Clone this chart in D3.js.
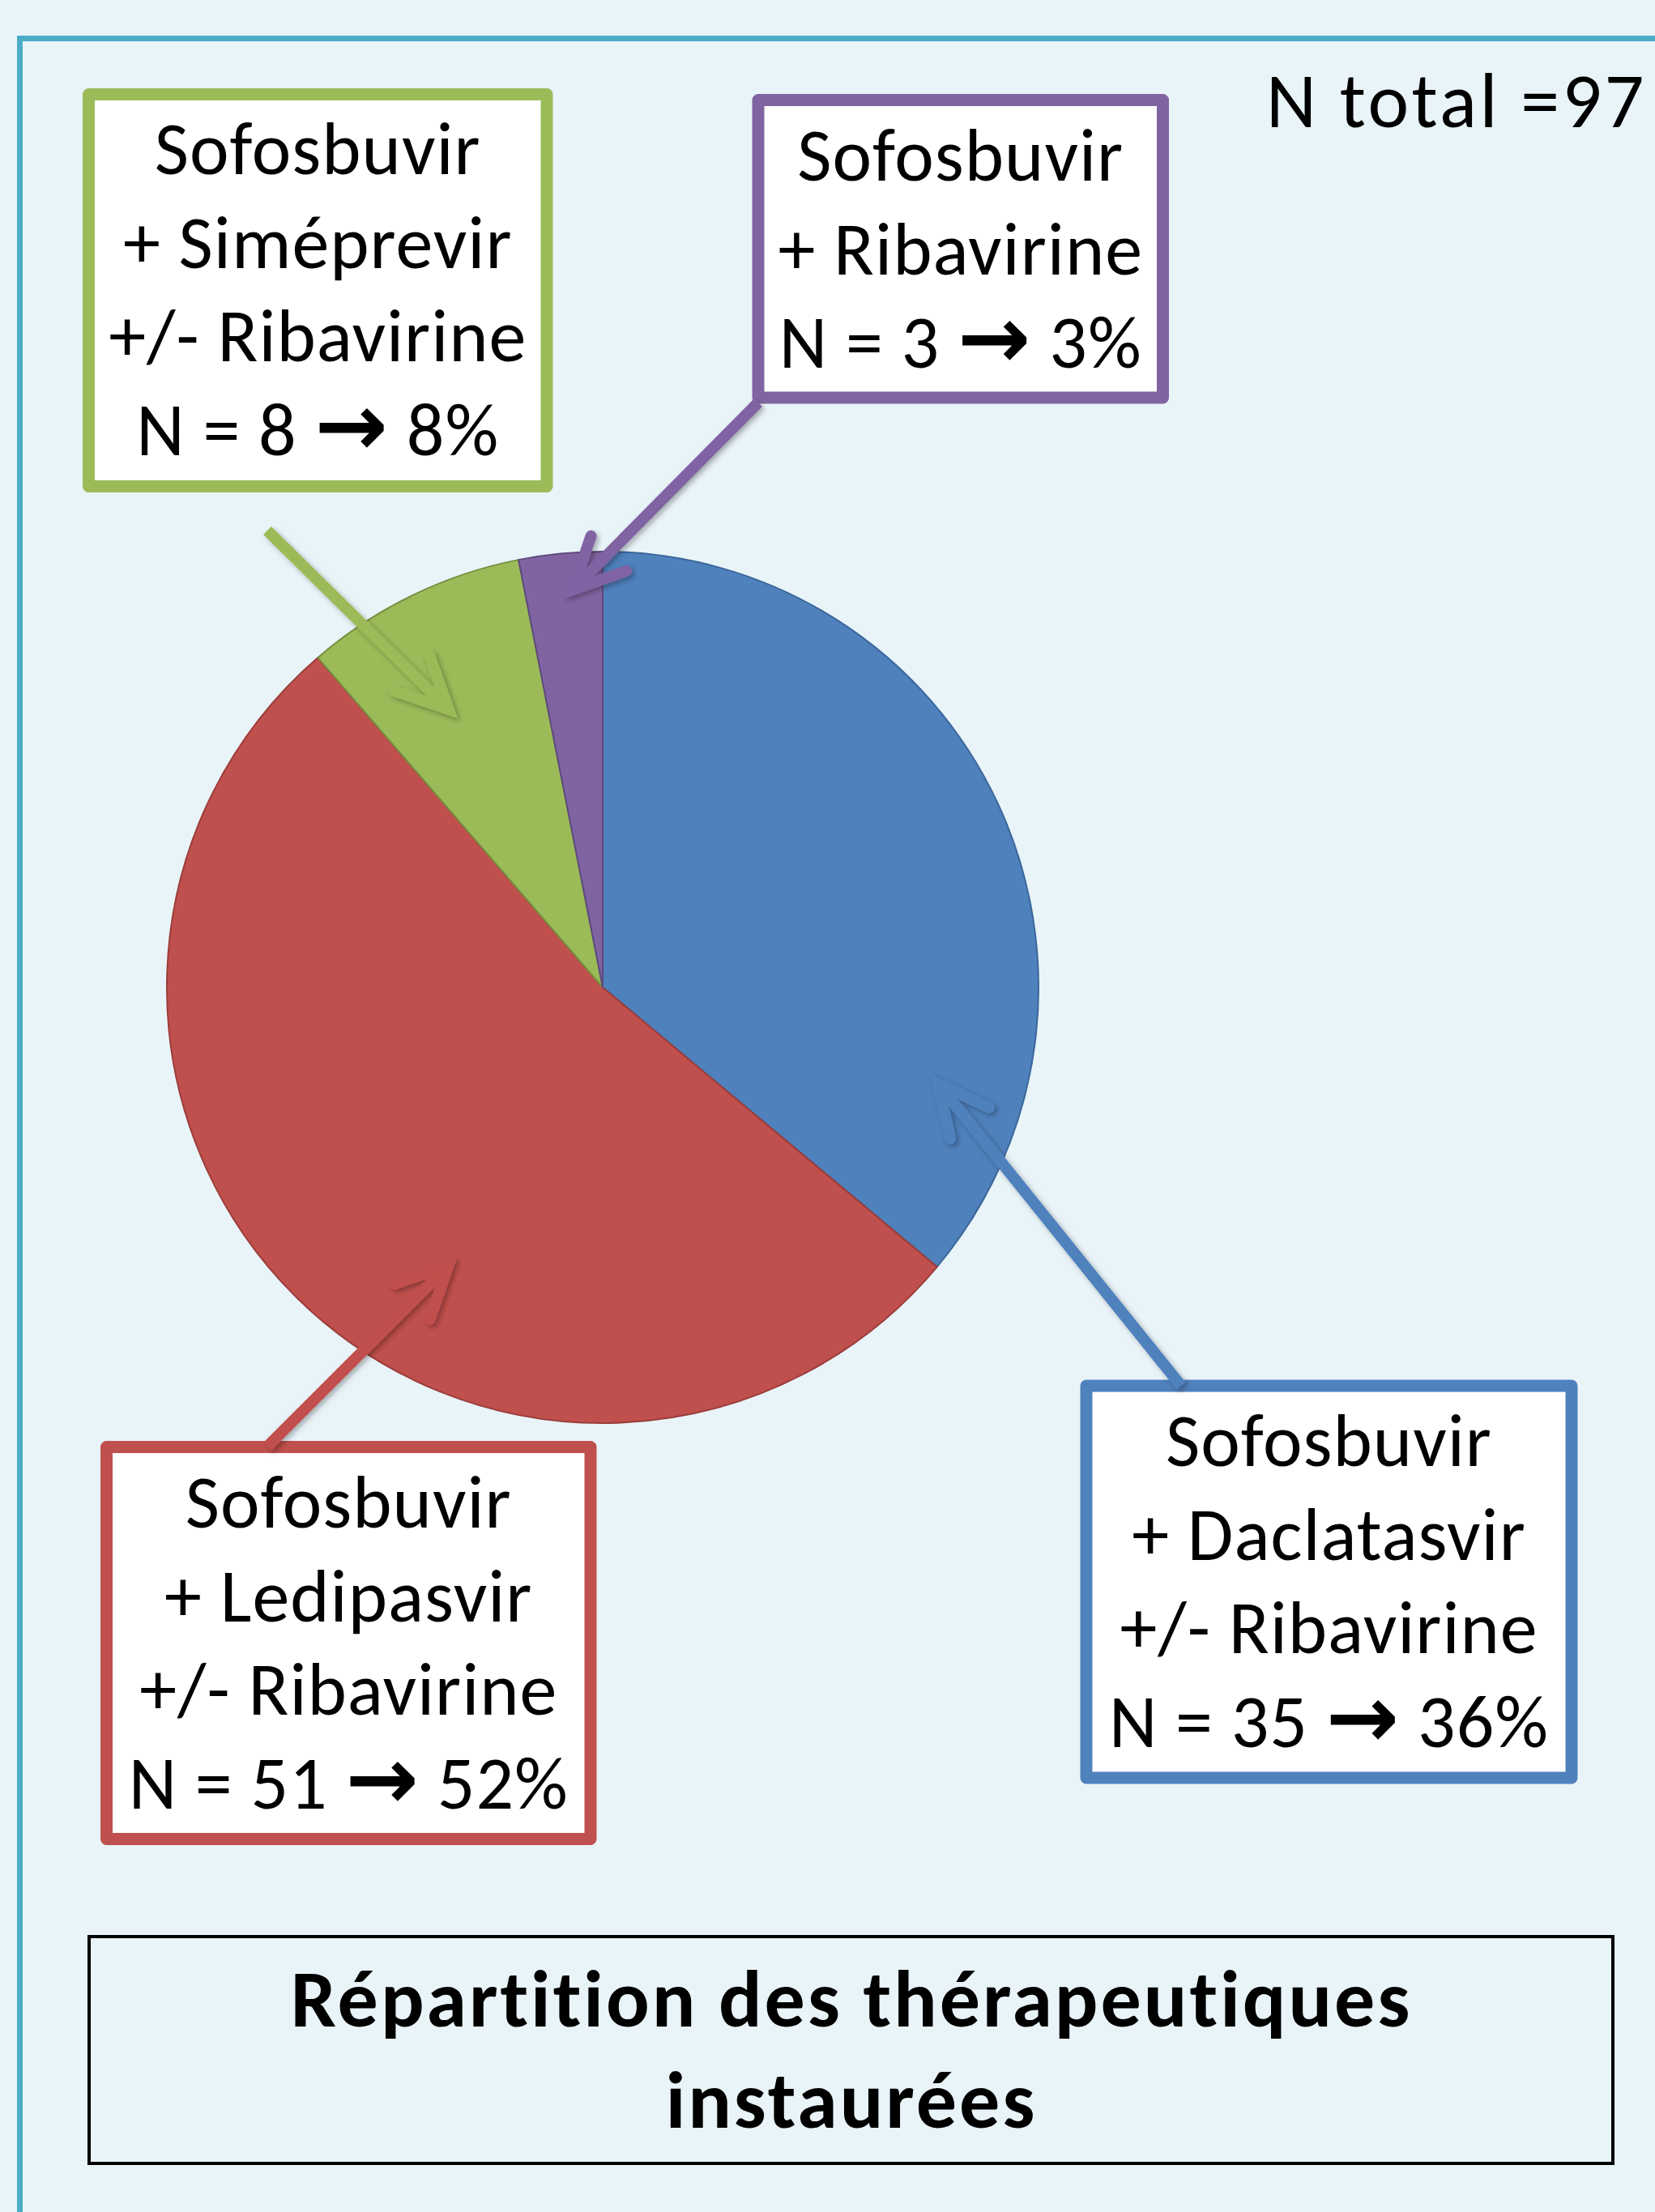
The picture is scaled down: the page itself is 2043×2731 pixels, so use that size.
<!DOCTYPE html>
<html><head><meta charset="utf-8">
<script src="https://cdn.jsdelivr.net/npm/d3@7"></script>
<style>html,body{margin:0;padding:0;background:#E9F4F9;} svg{display:block}</style>
</head><body>
<svg id="chart" width="2043" height="2731"></svg>
<script>
// ---- data ----
const categories = ["Sofosbuvir + Daclatasvir +/- Ribavirine", "Sofosbuvir + Ledipasvir +/- Ribavirine", "Sofosbuvir + Siméprevir +/- Ribavirine", "Sofosbuvir + Ribavirine"];
const counts = [35, 51, 8, 3];
const percents = ["36%", "52%", "8%", "3%"];
const labelLines = [
  ["Sofosbuvir", "+ Daclatasvir", "+/- Ribavirine"],
  ["Sofosbuvir", "+ Ledipasvir", "+/- Ribavirine"],
  ["Sofosbuvir", "+ Siméprevir", "+/- Ribavirine"],
  ["Sofosbuvir", "+ Ribavirine"]
];
const totalLabel = "N total =97";
const titleLines = ["Répartition des thérapeutiques", "instaurées"];
// where each annotation arrow points inside its slice (degrees clockwise from top, fraction of radius)
const arrowTipAngle = [106, 209, 331, 355.7];
const arrowTipRadius = [0.80, 0.73, 0.73, 0.915];

// ---- style / layout ----
const colors = ["#4F81BD", "#C0504D", "#9BBB59", "#8064A2"];
const strokeColors = ["#3B679A", "#9B3D3A", "#74903F", "#5F4A7E"];
const W = 2043, H = 2731;
const cx = 744, cy = 1219, R = 538;
const boxes = [
  {x: 1341, y: 1711, w: 599, h: 484, base: 1810, start: [1458, 1711]},
  {x: 131.5, y: 1786.5, w: 597.5, h: 484, base: 1886, start: [330, 1786]},
  {x: 109.5, y: 116.5, w: 565.5, h: 484, base: 215, start: [330, 655]},
  {x: 936, y: 123.5, w: 499.5, h: 367.5, base: 223, start: [936, 497]}
];
const lineGap = 115.5;
const FONT = "Carlito, Calibri, Lato, sans-serif";
const fs = 92;

const svg = d3.select("#chart");
const defs = svg.append("defs");
const f = defs.append("filter").attr("id", "shadow").attr("x", "-20%").attr("y", "-20%").attr("width", "140%").attr("height", "140%");
f.append("feDropShadow").attr("dx", 3).attr("dy", 3).attr("stdDeviation", 3).attr("flood-color", "#000").attr("flood-opacity", 0.3);

svg.append("rect").attr("width", W).attr("height", H).attr("fill", "#E9F4F9");
// frame
svg.append("rect").attr("x", 24.5).attr("y", 47.5).attr("width", W + 50).attr("height", H + 50)
  .attr("fill", "none").attr("stroke", "#4BACC6").attr("stroke-width", 7);

// pie
const pie = d3.pie().sort(null).value(d => d)(counts);
const arc = d3.arc().innerRadius(0).outerRadius(R);
const g = svg.append("g").attr("transform", `translate(${cx},${cy})`);
g.selectAll("path").data(pie).join("path")
  .attr("d", arc)
  .attr("fill", (d, i) => colors[i])
  .attr("stroke", (d, i) => strokeColors[i])
  .attr("stroke-width", 2)
  .attr("stroke-linejoin", "round");

// angle / radius scales for arrow tips
const angle = d3.scaleLinear().domain([0, 360]).range([0, 2 * Math.PI]);
const rad = d3.scaleLinear().domain([0, 1]).range([0, R]);

// boxes
boxes.forEach((b, i) => {
  svg.append("rect").attr("x", b.x).attr("y", b.y).attr("width", b.w).attr("height", b.h)
    .attr("fill", "#FFFFFF").attr("stroke", colors[i]).attr("stroke-width", 15).attr("stroke-linejoin", "round");
  const lines = labelLines[i].concat([`N = ${counts[i]} \u2192 ${percents[i]}`]);
  const t = svg.append("text").attr("font-family", FONT).attr("font-size", fs).attr("letter-spacing", 1)
    .attr("fill", "#000").attr("text-anchor", "middle");
  lines.forEach((ln, j) => {
    const ts = t.append("tspan").attr("x", b.x + b.w / 2).attr("y", b.base + j * lineGap);
    if (ln.indexOf("\u2192") >= 0) {
      const parts = ln.split("\u2192");
      ts.append("tspan").text(parts[0]);
      ts.append("tspan").attr("font-family", "DejaVu Sans").attr("font-weight", "bold").attr("font-size", 108).text("\u2192");
      ts.append("tspan").text(parts[1]);
    } else ts.text(ln);
  });
});

// arrows
const headLen = 70, headAng = 26 * Math.PI / 180, aw = 14;
boxes.forEach((b, i) => {
  const a = angle(arrowTipAngle[i]);
  const r = rad(arrowTipRadius[i]);
  const tip = [cx + r * Math.sin(a), cy - r * Math.cos(a)];
  const s = b.start;
  const dx = s[0] - tip[0], dy = s[1] - tip[1];
  const back = Math.atan2(dy, dx);
  const b1 = [tip[0] + headLen * Math.cos(back + headAng), tip[1] + headLen * Math.sin(back + headAng)];
  const b2 = [tip[0] + headLen * Math.cos(back - headAng), tip[1] + headLen * Math.sin(back - headAng)];
  const ag = svg.append("g").attr("filter", "url(#shadow)");
  const L = Math.hypot(dx, dy);
  const end = [tip[0] + dx / L * 5, tip[1] + dy / L * 5];
  ag.append("path").attr("d", d3.line()([s, end])).attr("stroke", colors[i]).attr("stroke-width", aw).attr("fill", "none");
  ag.append("path").attr("d", d3.line()([b1, tip, b2])).attr("stroke", colors[i]).attr("stroke-width", aw)
    .attr("fill", "none").attr("stroke-linecap", "round").attr("stroke-linejoin", "miter").attr("stroke-miterlimit", 10);
});

// total
svg.append("text").attr("x", 1563).attr("y", 157).attr("font-family", FONT).attr("font-size", 96)
  .attr("letter-spacing", 3.5).attr("fill", "#000").text(totalLabel);

// title box
svg.append("rect").attr("x", 110).attr("y", 2391).attr("width", 1881).attr("height", 280)
  .attr("fill", "none").attr("stroke", "#000").attr("stroke-width", 4);
const tt = svg.append("text").attr("font-family", FONT).attr("font-weight", 800).attr("font-size", 100)
  .attr("letter-spacing", 3).attr("text-anchor", "middle").attr("fill", "#000");
titleLines.forEach((ln, j) => tt.append("tspan").attr("x", 1051).attr("y", 2502 + j * 125).text(ln));
</script>
</body></html>
